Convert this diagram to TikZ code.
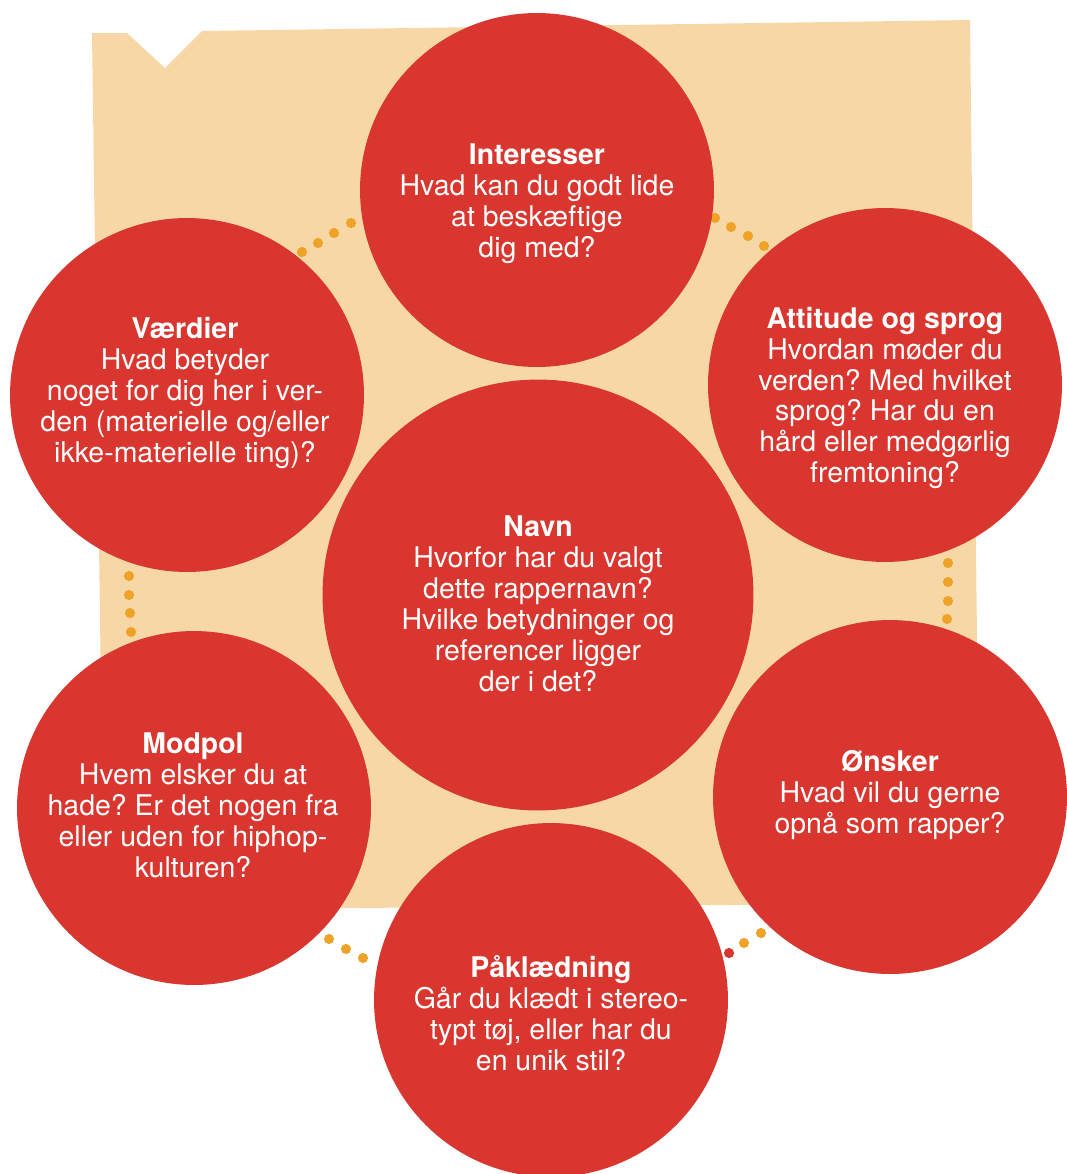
\documentclass[tikz,border=0pt]{standalone}
\usepackage{fontspec}
\setmainfont{TeX Gyre Heros}
\frenchspacing
\usetikzlibrary{positioning}
\definecolor{bubblered}{HTML}{D8362E}
\definecolor{paper}{HTML}{F8D7A6}
\definecolor{dotorange}{HTML}{EFA228}
\tikzset{
  bubble/.style     = {circle, fill=bubblered, minimum size=7.08cm, inner sep=0pt},
  bigbubble/.style  = {bubble, minimum size=8.62cm},
  bubbletext/.style = {align=center, text=white, inner sep=0pt,
                       font=\fontsize{16.2}{17.6}\selectfont},
  ringdot/.style    = {dotorange},
}

\begin{document}
\begin{tikzpicture}[x=0.02cm, y=-0.02cm] % 1 unit = 1 px of the layout
    \useasboundingbox (0,0) rectangle (1066,1174);

    % --- PAPER BACKGROUND with notch ---
    \fill[paper] (92,33) -- (127,33) -- (165,68) -- (202,31) -- (970,20)
        -- (980,903) -- (104,910) -- cycle;

    % --- DOTTED RING ---
    \foreach \x/\y in {302/252, 318/243, 334/233, 351/223,
                       715/218, 731/227, 748/236, 764/246,
                       948/563, 948/582, 948/601, 947/619,
                       129/576, 129/595, 130/613, 131/632,
                       329/939, 346/949, 363/958,
                       744/943, 761/933}
        \fill[ringdot] (\x,\y) circle (2.9pt);
    \fill[bubblered] (729,953) circle (2.9pt);

    % --- CIRCLES ---
    \node[bubble]    (int)  at (537,190)  {};
    \node[bubble]    (vaer) at (187,395)  {};
    \node[bubble]    (att)  at (885,385)  {};
    \node[bigbubble] (navn) at (538,595)  {};
    \node[bubble]    (mod)  at (194,808)  {};
    \node[bubble]    (onsk) at (890,797)  {};
    \node[bubble]    (pak)  at (551,1000) {};

    % --- TEXTS ---
    \node[bubbletext] (int-t) at (537,204) {{\bfseries Interesser}\\Hvad kan du godt lide\\at beskæftige\\dig med?};
    \node[bubbletext] (vaer-t) at (185,393) {{\bfseries Værdier}\\Hvad betyder\\noget for dig her i ver-\\den (materielle og/eller\\ikke-materielle ting)?};
    \node[bubbletext] (att-t) at (885,398) {{\bfseries Attitude og sprog}\\Hvordan møder du\\verden? Med hvilket\\sprog? Har du en\\hård eller medgørlig\\fremtoning?};
    \node[bubbletext] (navn-t) at (538,604) {{\bfseries Navn}\\Hvorfor har du valgt\\dette rappernavn?\\Hvilke betydninger og\\referencer ligger\\der i det?};
    \node[bubbletext] (mod-t) at (193,805) {{\bfseries Modpol}\\Hvem elsker du at\\hade? Er det nogen fra\\eller uden for hiphop-\\kulturen?};
    \node[bubbletext] (onsk-t) at (890,795) {{\bfseries Ønsker}\\Hvad vil du gerne\\opnå som rapper?};
    \node[bubbletext] (pak-t) at (551,1013) {{\bfseries Påklædning}\\Går du klædt i stereo-\\typt tøj, eller har du\\en unik stil?};

\end{tikzpicture}
\end{document}
